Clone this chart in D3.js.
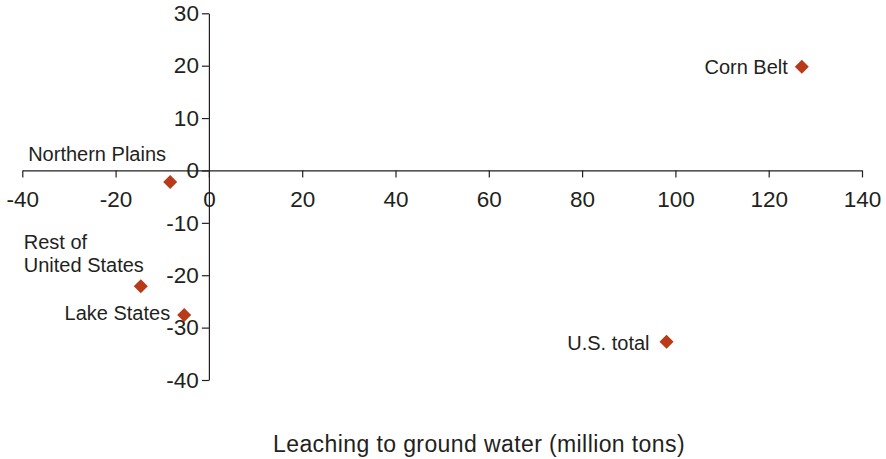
<!DOCTYPE html>
<html>
<head>
	<meta charset="utf-8">
	<script src="https://d3js.org/d3.v7.min.js"></script>
	<style>
		body { margin: 0; background: #fff; }
		text { font-family: "Liberation Sans", Arial, sans-serif; fill: #231f20; }
	</style>
</head>
<body>
	<div id="chart"></div>

	<script>
		// Data
		const regions = ["Corn Belt", "Northern Plains", "Rest of United States", "Lake States", "U.S. total"];
		const leaching = [127.1, -8.3, -14.6, -5.3, 98.1];
		const otherChange = [19.8, -2.2, -22.1, -27.6, -32.7];
		const xTicks = [-40, -20, 0, 20, 40, 60, 80, 100, 120, 140];
		const yTicks = [-40, -30, -20, -10, 0, 10, 20, 30];
		const xTitle = "Leaching to ground water (million tons)";

		// line breaks for the point labels
		const labelLines = [["Corn Belt"], ["Northern Plains"], ["Rest of", "United States"], ["Lake States"], ["U.S. total"]];

		const W = 886, H = 459;
		const x = d3.scaleLinear().domain([-40, 140]).range([22.3, 862]);
		const y = d3.scaleLinear().domain([-40, 30]).range([380, 13.3]);

		const svg = d3.select("#chart")
			.append("svg")
			.attr("width", W)
			.attr("height", H);

		// plain hyphen for negatives, like the original
		const fmt = d => String(d);

		// x axis sits at y = 0
		const xAxis = svg.append("g")
			.attr("transform", `translate(0,${y(0)})`)
			.call(d3.axisBottom(x).tickValues(xTicks).tickFormat(fmt).tickSize(7).tickSizeOuter(0).tickPadding(14));
		xAxis.selectAll("text").style("font-size", "22.5px").attr("dy", "0.71em");

		// y axis sits at x = 0
		const yAxis = svg.append("g")
			.attr("transform", `translate(${x(0)},0)`)
			.call(d3.axisLeft(y).tickValues(yTicks).tickFormat(fmt).tickSize(7).tickSizeOuter(0).tickPadding(3));
		yAxis.selectAll("text").style("font-size", "22.5px");

		svg.selectAll(".domain, .tick line").attr("stroke", "#231f20").attr("stroke-width", 1.2);

		// points
		const data = regions.map((r, i) => ({ name: r, x: leaching[i], y: otherChange[i], lines: labelLines[i] }));

		svg.selectAll(".pt")
			.data(data)
			.enter()
			.append("path")
			.attr("class", "pt")
			.attr("d", d3.symbol().type(d3.symbolDiamond2).size(125))
			.attr("transform", d => `translate(${x(d.x)},${y(d.y)})`)
			.attr("fill", "#b83a18");

		// label offsets relative to the marker
		const offsets = {
			"Corn Belt": { dx: -14, dy: 7, anchor: "end" },
			"Northern Plains": { dx: -142, dy: -21, anchor: "start" },
			"Rest of United States": { dx: -117, dy: -37, anchor: "start" },
			"Lake States": { dx: -14, dy: 5, anchor: "end" },
			"U.S. total": { dx: -17, dy: 8, anchor: "end" }
		};

		data.forEach(d => {
			const o = offsets[d.name];
			const t = svg.append("text")
				.attr("x", x(d.x) + o.dx)
				.attr("y", y(d.y) + o.dy)
				.attr("text-anchor", o.anchor)
				.style("font-size", "20px");
			d.lines.forEach((l, i) => {
				t.append("tspan")
					.attr("x", x(d.x) + o.dx)
					.attr("dy", i === 0 ? 0 : 23)
					.text(l);
			});
		});

		svg.append("text")
			.attr("x", 479)
			.attr("y", 452)
			.attr("text-anchor", "middle")
			.style("font-size", "23px")
			.style("letter-spacing", "0.4px")
			.text(xTitle);
	</script>
</body>
</html>
